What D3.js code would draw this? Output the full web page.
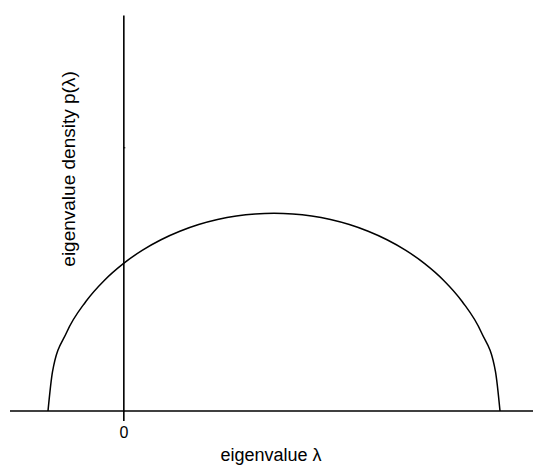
<!DOCTYPE html>
<html>
<head>
<meta charset="utf-8">
<script src="https://cdn.jsdelivr.net/npm/d3@7"></script>
<style>
  body { margin: 0; background: #fff; }
  text { font-family: "Liberation Sans", Arial, sans-serif; }
</style>
</head>
<body>
<svg id="chart" width="533" height="466"></svg>
<script>
// eigenvalue samples
var lambda = [-1, -0.94, -0.75, -0.5, -0.25, 0, 0.25, 0.5, 0.75, 1, 1.25, 1.5, 1.75, 2,
              2.25, 2.5, 2.75, 3, 3.25, 3.5, 3.75, 4, 4.25, 4.5, 4.75, 4.94, 5];
var density = [0, 0.0422, 0.0848, 0.1173, 0.1404, 0.1582, 0.1724, 0.1838, 0.1929, 0.2001, 0.2055, 0.2093, 0.2115, 0.2122,
               0.2115, 0.2093, 0.2055, 0.2001, 0.1929, 0.1838, 0.1724, 0.1582, 0.1404, 0.1173, 0.0848, 0.0422, 0];
var xTicks = [0];
var yTicks = [0.283];

var svg = d3.select("#chart"),
    width = 533,
    baseY = 411;

var x = d3.scaleLinear().domain([-1, 5]).range([48, 500]);
var y = d3.scaleLinear().domain([0, 0.425]).range([baseY, 15]);

var pts = lambda.map(function(l, i) { return [l, density[i]]; });

// horizontal axis line across the page
svg.append("line")
    .attr("x1", 10).attr("x2", width)
    .attr("y1", baseY).attr("y2", baseY)
    .attr("stroke", "#000").attr("stroke-width", 1.6);

var xAxis = svg.append("g")
    .attr("transform", "translate(0," + baseY + ")")
    .call(d3.axisBottom(x).tickValues(xTicks).tickSize(10).tickSizeOuter(0).tickFormat(d3.format("d")));
xAxis.select(".domain").remove();
xAxis.attr("font-size", null).attr("font-family", null);
xAxis.selectAll(".tick line").attr("stroke-width", 1.6);
xAxis.selectAll(".tick text")
    .style("font-size", "16px").attr("y", 16);

var yAxis = svg.append("g")
    .attr("transform", "translate(" + x(0) + ",0)")
    .call(d3.axisRight(y).tickValues(yTicks).tickSize(2).tickSizeOuter(0).tickFormat(""));
yAxis.select(".domain").attr("stroke-width", 1.6);

svg.append("path")
    .datum(pts)
    .attr("fill", "none")
    .attr("stroke", "#000")
    .attr("stroke-width", 1.5)
    .attr("d", d3.line()
        .x(function(d) { return x(d[0]); })
        .y(function(d) { return y(d[1]); })
        .curve(d3.curveMonotoneX));

svg.append("text")
    .attr("x", 271).attr("y", 461)
    .attr("text-anchor", "middle")
    .attr("font-size", 18)
    .text("eigenvalue \u03bb");

svg.append("text")
    .attr("transform", "translate(75,169) rotate(-90)")
    .attr("text-anchor", "middle")
    .attr("font-size", 19)
    .text("eigenvalue density p(\u03bb)");
</script>
</body>
</html>
